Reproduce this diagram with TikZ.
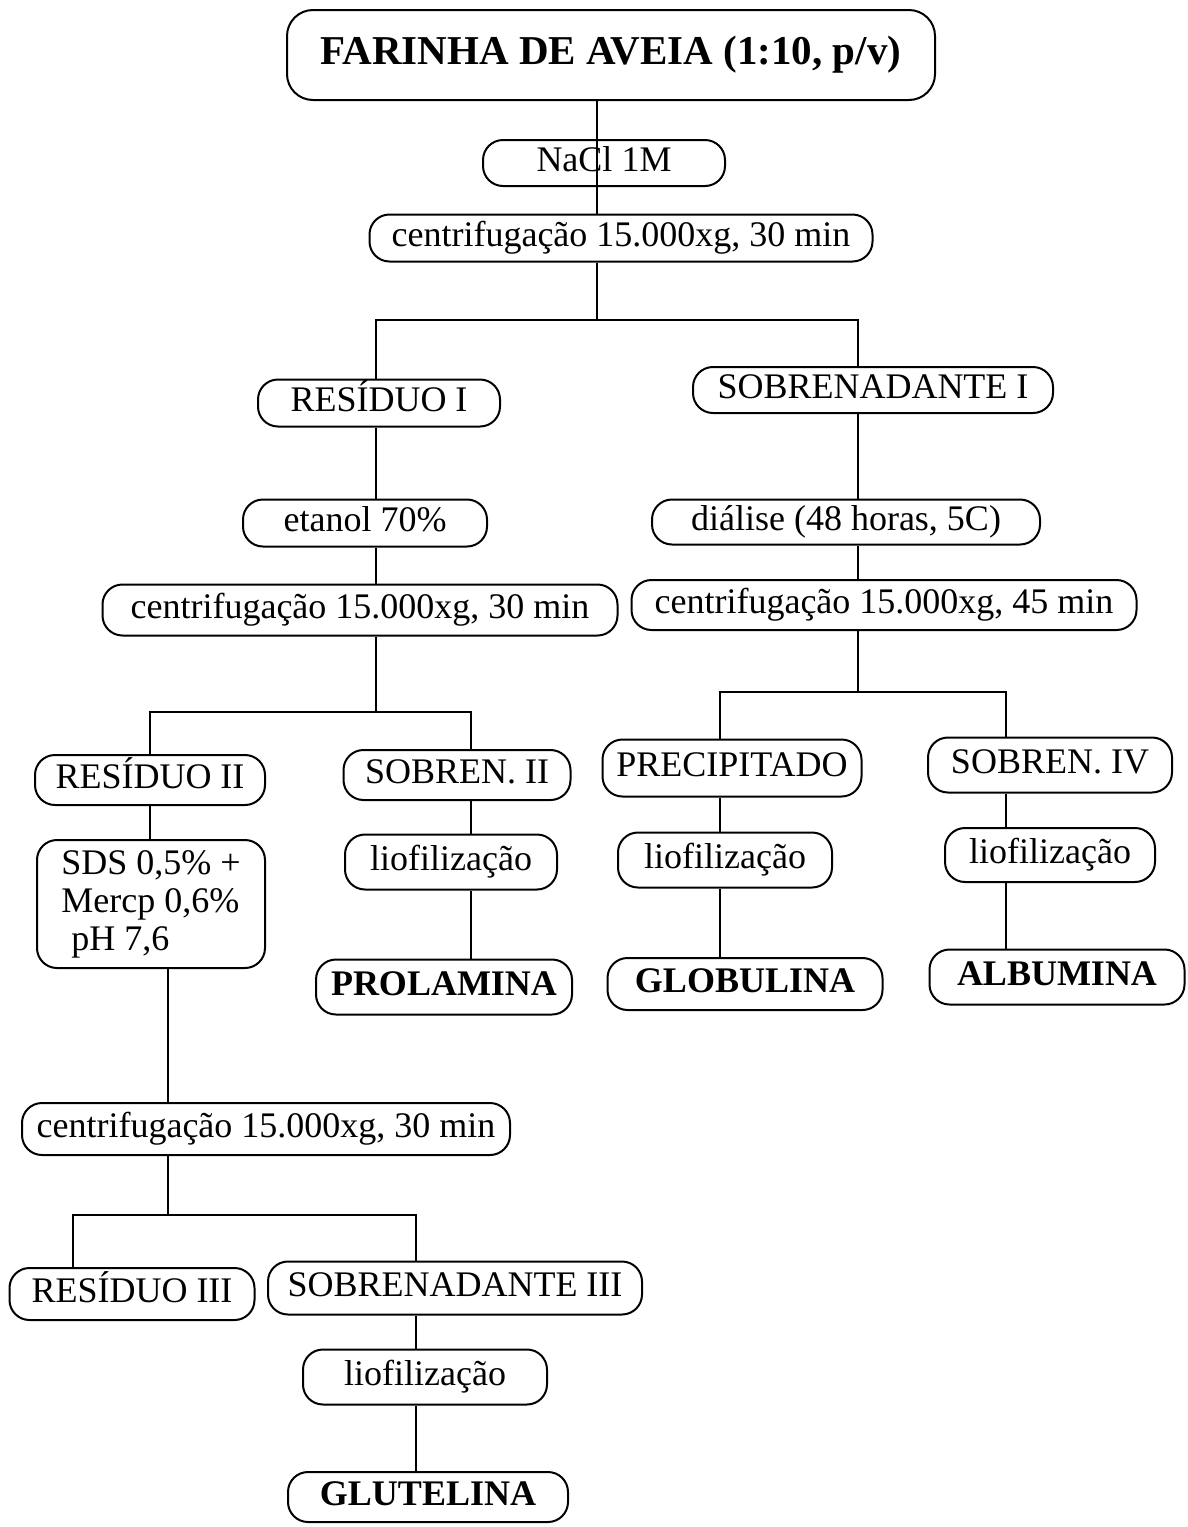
\documentclass[tikz,border=0pt]{standalone}
\usepackage{fontspec}
\setmainfont{Liberation Serif}
\begin{document}
\begin{tikzpicture}[x=0.5pt,y=-0.5pt,line width=1pt,
    frame/.style={draw,rounded corners=10pt,inner sep=2pt,font=\fontsize{18}{21}\selectfont},
    box/.style={frame,text height=12pt,text depth=4pt},
    boldbox/.style={box,font=\fontsize{18}{21}\selectfont\bfseries}]
  \useasboundingbox (0,0) rectangle (1188,1527);

  % columns of the vertical connectors
  \foreach \n/\x in {cL/376,cR/858,cS/471,cE/73,cG/416,cP/720,cV/1006}
    \coordinate (\n) at (\x,0);
  % split points
  \coordinate (sA) at (597,320);
  \coordinate (sB) at (376,712);
  \coordinate (sC) at (168,1215);
  \coordinate (sD) at (858,692);

  \node[box,rounded corners=13pt,minimum width=324pt,minimum height=45pt,text height=14pt,text depth=4.5pt,
        font=\fontsize{20.5}{24}\selectfont\bfseries] (title) at (611,55) {FARINHA DE AVEIA (1:10, p/v)};
  \node[box,minimum width=121pt,minimum height=23pt] (nacl) at (604,163) {NaCl 1M};
  \node[box,minimum width=251.5pt,minimum height=23.5pt] (c1) at (621,238) {centrifugação 15.000xg, 30 min};

  % left branch
  \node[box,minimum width=121pt,minimum height=23.5pt] (res1) at (379,403) {RESÍDUO I};
  \node[box,minimum width=122pt,minimum height=23.5pt] (etanol) at (365,523) {etanol 70\%};
  \node[box,minimum width=257.5pt,minimum height=25.5pt] (c2) at (360,610) {centrifugação 15.000xg, 30 min};
  \node[box,minimum width=115pt,minimum height=25pt] (res2) at (150,780) {RESÍDUO II};
  \node[box,minimum width=113.5pt,minimum height=25pt] (sob2) at (457,775) {SOBREN. II};
  \node[frame,align=left,minimum width=114pt,minimum height=64pt,
        font=\fontsize{18}{19}\selectfont] (sds) at (151,904) {SDS 0,5\% +\\Mercp 0,6\%\\\hspace*{5pt}pH 7,6};
  \node[box,minimum width=106pt,minimum height=27.5pt] (lio2) at (451,862) {liofilização};
  \node[boldbox,minimum width=128pt,minimum height=27.5pt] (prol) at (444,987) {PROLAMINA};
  \node[box,minimum width=244pt,minimum height=26pt] (c3) at (266,1129) {centrifugação 15.000xg, 30 min};
  \node[box,minimum width=122.5pt,minimum height=26pt] (res3) at (132,1294) {RESÍDUO III};
  \node[box,minimum width=187pt,minimum height=26.5pt] (sob3) at (455,1288) {SOBRENADANTE III};
  \node[box,minimum width=122pt,minimum height=27.5pt] (lio3) at (425,1377) {liofilização};
  \node[boldbox,minimum width=140pt,minimum height=25pt] (glut) at (428,1497) {GLUTELINA};

  % right branch
  \node[box,minimum width=180pt,minimum height=23pt] (sob1) at (873,390) {SOBRENADANTE I};
  \node[box,minimum width=194pt,minimum height=22.5pt] (dial) at (846,522) {diálise (48 horas, 5C)};
  \node[box,minimum width=252.5pt,minimum height=25pt] (c4) at (884,605) {centrifugação 15.000xg, 45 min};
  \node[box,minimum width=129.5pt,minimum height=28.5pt] (prec) at (732,768) {PRECIPITADO};
  \node[box,minimum width=122pt,minimum height=27.5pt] (sob4) at (1050,765) {SOBREN. IV};
  \node[box,minimum width=107pt,minimum height=27.5pt] (lio4) at (725,860) {liofilização};
  \node[boldbox,minimum width=137.5pt,minimum height=26pt] (glob) at (745,984) {GLOBULINA};
  \node[box,minimum width=105pt,minimum height=27pt] (lio5) at (1050,855) {liofilização};
  \node[boldbox,minimum width=127.5pt,minimum height=27.5pt] (albu) at (1057,977) {ALBUMINA};

  % connectors
  \draw (title.south -| sA) -- (c1.north -| sA);
  \draw (c1.south -| sA) -- (sA);
  \draw (cL |- res1.north) |- (cR |- sA) -- (cR |- sob1.north);

  \draw (cL |- res1.south) -- (cL |- etanol.north);
  \draw (cL |- etanol.south) -- (cL |- c2.north);
  \draw (c2.south -| sB) -- (sB);
  \draw (res2.north) |- (cS |- sB) -- (cS |- sob2.north);
  \draw (cS |- sob2.south) -- (cS |- lio2.north);
  \draw (cS |- lio2.south) -- (cS |- prol.north);
  \draw (res2.south) -- (res2.south |- sds.north);
  \draw (sds.south -| sC) -- (c3.north -| sC);
  \draw (c3.south -| sC) -- (sC);
  \draw (cE |- res3.north) |- (cG |- sC) -- (cG |- sob3.north);
  \draw (cG |- sob3.south) -- (cG |- lio3.north);
  \draw (cG |- lio3.south) -- (cG |- glut.north);

  \draw (cR |- sob1.south) -- (cR |- dial.north);
  \draw (cR |- dial.south) -- (cR |- c4.north);
  \draw (c4.south -| sD) -- (sD);
  \draw (cP |- prec.north) |- (cV |- sD) -- (cV |- sob4.north);
  \draw (cP |- prec.south) -- (cP |- lio4.north);
  \draw (cP |- lio4.south) -- (cP |- glob.north);
  \draw (cV |- sob4.south) -- (cV |- lio5.north);
  \draw (cV |- lio5.south) -- (cV |- albu.north);
\end{tikzpicture}
\end{document}
